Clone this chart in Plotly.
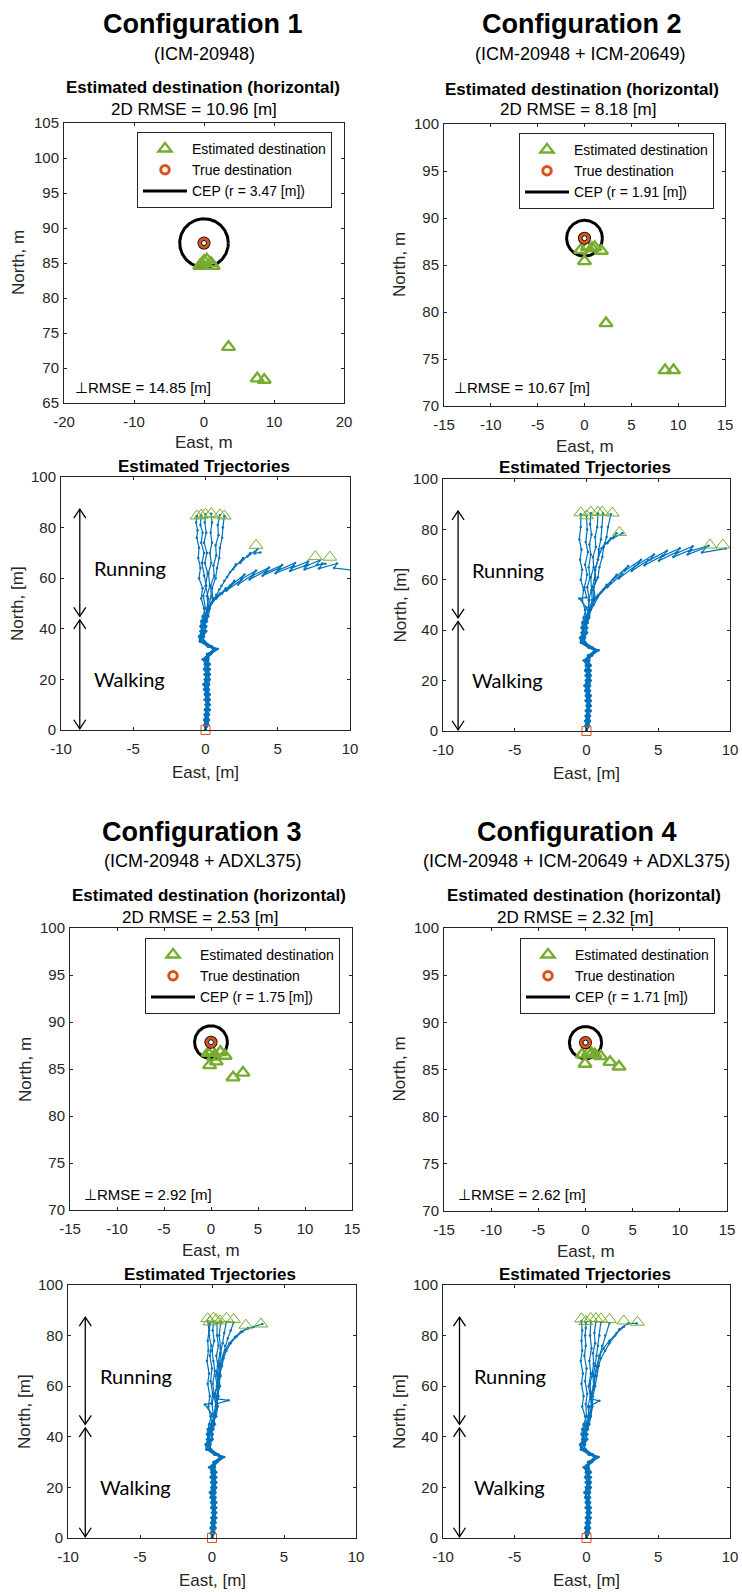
import numpy as np
import plotly.graph_objects as go

W, H = 742, 1592
FONT = "Liberation Sans"
TXT = "#262626"
BLUE = "#0072BD"
GREEN = "#77AC30"
ORANGE = "#D95319"

# ------------------------------------------------------------------ data
CONFIG_TITLES = ["Configuration 1", "Configuration 2", "Configuration 3", "Configuration 4"]
CONFIG_SENSORS = ["(ICM-20948)", "(ICM-20948 + ICM-20649)",
                  "(ICM-20948 + ADXL375)", "(ICM-20948 + ICM-20649 + ADXL375)"]
RMSE_2D = [10.96, 8.18, 2.53, 2.32]
RMSE_PERP = [14.85, 10.67, 2.92, 2.62]
CEP_R = [3.47, 1.91, 1.75, 1.71]
TRUE_E = [0.0]
TRUE_N = [87.85]

# estimated destinations (east, north) per configuration
DEST_E1 = [-0.6, -0.3, 0.0, 0.4, 1.0, 1.3, 3.5, 7.6, 8.6]
DEST_N1 = [84.6, 84.9, 85.3, 85.5, 85.0, 84.6, 73.0, 68.5, 68.3]
DEST_E2 = [-0.4, 0.0, 0.3, 0.8, 1.1, 1.8, 2.3, 8.6, 9.5]
DEST_N2 = [86.6, 85.4, 86.9, 86.8, 86.9, 86.5, 78.8, 73.8, 73.8]
DEST_E3 = [-0.3, -0.15, 0.1, 0.3, 0.55, 1.0, 1.5, 2.35, 3.4]
DEST_N3 = [86.7, 85.4, 86.9, 86.3, 85.8, 86.8, 86.4, 84.1, 84.6]
DEST_E4 = [-0.35, -0.05, 0.3, 0.65, 1.0, 1.6, 2.6, 3.55]
DEST_N4 = [86.6, 85.6, 86.8, 86.7, 86.6, 86.4, 85.8, 85.3]

# walking part of each trajectory (shared north samples)
WALK_N = [0, 2, 4, 6, 8, 10, 12, 14, 16, 18, 20, 22, 24, 26, 28, 30, 32, 33, 35, 37, 39, 41, 43, 45]
WALK_E = [
    [0, 0.10, -0.05, 0.15, 0.05, 0.20, -0.05, 0.15, 0.00, -0.10, 0.15, 0.25, 0.05, 0.10, -0.05, 0.30, 0.75, 0.30, -0.35, -0.30, -0.10, -0.30, -0.15, 0.00],
    [0, -0.05, 0.10, 0.00, 0.20, 0.05, 0.15, 0.25, 0.05, -0.15, 0.05, 0.10, -0.10, 0.00, -0.20, 0.20, 0.60, 0.15, -0.40, -0.45, -0.25, -0.35, -0.30, -0.20],
    [0, 0.15, 0.05, 0.25, 0.10, 0.00, 0.20, 0.10, 0.25, 0.05, -0.05, 0.15, 0.20, -0.05, 0.05, 0.25, 0.70, 0.40, -0.15, -0.20, 0.00, -0.10, 0.05, 0.10],
    [0, 0.05, 0.20, 0.10, -0.05, 0.15, 0.30, 0.05, 0.15, 0.25, 0.10, -0.05, 0.10, 0.20, 0.00, 0.35, 0.80, 0.45, -0.05, -0.25, -0.05, 0.05, -0.10, 0.15],
    [0, 0.00, -0.10, 0.05, 0.15, 0.25, 0.05, -0.05, 0.10, 0.20, 0.30, 0.05, -0.05, 0.15, 0.10, 0.15, 0.65, 0.20, -0.30, -0.40, -0.20, -0.15, -0.25, -0.05],
    [0, 0.20, 0.10, -0.05, 0.10, 0.30, 0.15, 0.00, -0.05, 0.10, 0.20, 0.30, 0.15, 0.25, 0.05, 0.40, 0.85, 0.35, -0.10, -0.15, 0.05, -0.05, 0.10, 0.20],
    [0, 0.10, 0.25, 0.15, 0.00, 0.10, 0.25, 0.20, -0.10, 0.00, 0.25, 0.15, 0.30, 0.05, -0.10, 0.20, 0.55, 0.25, -0.25, -0.35, -0.15, -0.30, -0.05, 0.05],
    [0, -0.10, 0.05, 0.20, 0.30, 0.10, -0.05, 0.15, 0.20, 0.05, 0.00, 0.20, 0.10, 0.30, 0.15, 0.10, 0.70, 0.30, -0.20, -0.10, -0.30, -0.20, 0.00, -0.10],
    [0, 0.05, 0.15, -0.05, 0.10, 0.20, 0.10, 0.30, 0.15, 0.00, 0.10, -0.05, 0.25, 0.10, 0.20, 0.30, 0.60, 0.25, -0.30, -0.20, -0.35, -0.10, -0.20, 0.05],
]

# running part of each trajectory, per configuration
RUN1_E = [
    [-0.1, -0.3, -0.2, -0.45, -0.35, -0.5, -0.45, -0.6, -0.55, -0.65, -0.6],
    [0.0, -0.15, 0.05, -0.1, -0.25, -0.1, -0.3, -0.2, -0.35, -0.3],
    [0.1, 0.2, 0.0, 0.15, -0.05, 0.1, -0.1, 0.05, -0.05, 0.0],
    [0.2, 0.1, 0.3, 0.2, 0.4, 0.3, 0.45, 0.35, 0.45, 0.4],
    [0.2, 0.4, 0.35, 0.6, 0.55, 0.75, 0.7, 0.9, 0.85, 1.0],
    [0.3, 0.5, 0.45, 0.7, 0.8, 0.95, 1.0, 1.15, 1.2, 1.3],
    [0.2, 0.6, 0.4, 0.95, 0.75, 1.3, 1.1, 1.7, 1.5, 2.1, 1.9, 2.6, 2.4, 3.1, 2.9, 3.6, 3.4, 3.8],
    [0.3, 0.8, 0.55, 1.4, 1.15, 2.0, 1.75, 2.7, 2.45, 3.5, 3.25, 4.4, 4.15, 5.3, 5.05, 6.2, 5.95, 7.1, 6.85, 7.9, 7.7, 8.3],
    [0.4, 1.0, 0.75, 1.7, 1.45, 2.5, 2.25, 3.3, 3.05, 4.2, 3.95, 5.1, 4.85, 6.1, 5.85, 7.1, 6.85, 8.1, 7.85, 9.1, 8.9, 10.2],
]
RUN1_N = [
    [48, 52, 56, 60, 64, 68, 72, 76, 79, 82, 84.6],
    [48, 53, 57, 61, 66, 70, 74, 78, 81, 84.9],
    [48, 52, 57, 62, 66, 70, 74, 78, 82, 85.3],
    [48, 53, 57, 62, 66, 70, 74, 78, 82, 85.5],
    [49, 53, 57, 61, 65, 69, 73, 77, 81, 85.0],
    [48, 52, 56, 60, 64, 68, 72, 76, 80, 84.6],
    [48, 52, 50, 55.5, 53.5, 59, 57, 62.5, 60.5, 65.5, 63.5, 68, 66, 70, 68.5, 71.5, 69.8, 70.2],
    [49, 53, 51, 56, 54, 59, 57, 61.5, 59.5, 63, 61, 64.2, 62.2, 65.2, 63.2, 66, 64, 66.6, 64.6, 67, 65.2, 65.7],
    [50, 54, 52, 57, 55, 59.5, 57.5, 61.5, 59.5, 63, 61, 64, 62, 64.8, 62.8, 65.4, 63.4, 65.8, 63.8, 65.8, 64, 63.2],
]
RUN2_E = [
    [-0.1, -0.3, -0.2, -0.4, -0.3, -0.45, -0.35, -0.5, -0.4, -0.4],
    [0.0, -0.5, 0.0, -0.15, 0.05, -0.1, 0.1, -0.05, 0.05, 0.0],
    [0.1, 0.2, 0.05, 0.25, 0.15, 0.3, 0.2, 0.35, 0.25, 0.3],
    [0.2, 0.15, 0.35, 0.3, 0.5, 0.45, 0.65, 0.6, 0.75, 0.8],
    [0.3, 0.5, 0.45, 0.65, 0.6, 0.8, 0.85, 1.0, 1.05, 1.15],
    [0.3, 0.6, 0.5, 0.8, 0.9, 1.1, 1.2, 1.4, 1.5, 1.7],
    [0.2, 0.4, 0.35, 0.55, 0.6, 0.8, 0.95, 1.3, 1.05, 1.7, 1.45, 2.1, 1.85, 2.5],
    [0.3, 0.8, 0.55, 1.4, 1.15, 2.1, 1.85, 2.9, 2.65, 3.8, 3.55, 4.7, 4.45, 5.6, 5.35, 6.5, 6.25, 7.4, 7.15, 8.5],
    [0.5, 1.0, 0.75, 1.7, 1.45, 2.5, 2.25, 3.4, 3.15, 4.3, 4.05, 5.3, 5.05, 6.3, 6.05, 7.3, 7.05, 8.3, 8.05, 9.7],
]
RUN2_N = [
    [48, 52, 56, 60, 64, 68, 72, 76, 81, 86.0],
    [49, 52.6, 53, 57, 62, 66, 71, 75, 80, 85.4],
    [48, 52, 57, 61, 65, 70, 74, 78, 82, 86.4],
    [48, 52, 56, 61, 65, 69, 73, 77, 81, 86.3],
    [48, 52, 56, 60, 64, 68, 72, 76, 81, 86.4],
    [49, 53, 57, 61, 65, 69, 73, 77, 81, 86.0],
    [48, 52, 56, 60, 64, 68, 71, 74.5, 72.5, 76.5, 74.5, 78.5, 76.5, 78.5],
    [49, 54, 52, 58, 56, 62, 60, 65.5, 63.5, 68, 66, 70, 68, 71.5, 69.5, 72.5, 70.5, 73.3, 71.3, 73.5],
    [50, 55, 53, 59, 57, 62.5, 60.5, 65.5, 63.5, 67.8, 65.8, 69.6, 67.6, 71, 69, 72, 70, 72.8, 70.8, 72.4],
]
RUN3_E = [
    [-0.1, -0.25, -0.15, -0.3, -0.2, -0.35, -0.25, -0.3, -0.2, -0.3],
    [0.0, -0.5, -0.05, 0.05, -0.1, 0.0, -0.15, -0.05, -0.2, -0.15],
    [0.1, 0.0, 0.15, 0.05, 0.2, 0.1, 0.0, 0.15, 0.05, 0.1],
    [0.2, 0.3, 0.15, 0.35, 0.25, 0.4, 0.3, 0.45, 0.35, 0.35],
    [0.2, 0.3, 1.15, 0.4, 0.35, 0.5, 0.45, 0.6, 0.5, 0.6],
    [0.1, 0.25, 0.2, 0.4, 0.35, 0.55, 0.6, 0.75, 0.85, 1.0],
    [0.2, 0.3, 0.45, 0.4, 0.6, 0.55, 0.75, 0.9, 1.1, 1.3, 1.5],
    [0.3, 0.4, 0.35, 0.55, 0.5, 0.7, 0.8, 1.0, 1.3, 1.7, 2.1, 2.5],
    [0.2, 0.35, 0.3, 0.5, 0.45, 0.6, 0.75, 0.9, 1.2, 1.6, 2.0, 2.5, 2.9, 3.5],
]
RUN3_N = [
    [48, 52, 56, 61, 65, 70, 74, 78, 82, 85.8],
    [49, 52.8, 53.2, 57, 62, 67, 72, 76, 80, 84.8],
    [48, 53, 57, 61, 66, 70, 74, 78, 82, 85.6],
    [48, 52, 56, 60, 64, 68, 72, 76, 80, 85.0],
    [49, 53, 54.4, 55, 60, 65, 70, 75, 80, 85.0],
    [48, 52, 57, 61, 65, 69, 73, 77, 81, 85.4],
    [48, 52, 56, 60, 64, 68, 72, 76, 79, 82, 85.2],
    [48, 52, 56, 60, 64, 68, 71, 74, 77, 79.5, 81.5, 83.0],
    [48, 52, 56, 60, 64, 68, 71, 74, 77, 79.5, 81.5, 82.8, 83.4, 84.6],
]
RUN4_E = [
    [-0.1, -0.3, -0.2, -0.35, -0.25, -0.4, -0.3, -0.35, -0.3, -0.35],
    [0.0, -0.05, 0.05, -0.1, 0.0, -0.15, -0.05, -0.1, -0.05, -0.05],
    [0.1, 0.2, 0.9, 0.3, 0.15, 0.3, 0.2, 0.35, 0.25, 0.3],
    [0.2, 0.1, 0.3, 0.25, 0.4, 0.5, 0.45, 0.6, 0.55, 0.65],
    [0.2, 0.35, 0.3, 0.5, 0.45, 0.6, 0.7, 0.8, 0.9, 1.0],
    [0.3, 0.4, 0.35, 0.55, 0.6, 0.8, 0.9, 1.1, 1.3, 1.6],
    [0.2, 0.35, 0.3, 0.5, 0.55, 0.7, 0.9, 1.2, 1.6, 2.1, 2.6],
    [0.3, 0.4, 0.45, 0.6, 0.7, 0.85, 1.0, 1.3, 1.6, 2.0, 2.3, 2.9, 3.5],
]
RUN4_N = [
    [48, 52, 56, 61, 65, 70, 74, 78, 82, 85.8],
    [48, 53, 57, 62, 67, 72, 76, 80, 83, 85.2],
    [48, 52, 54.2, 55, 60, 65, 70, 75, 80, 85.6],
    [48, 52, 57, 61, 65, 69, 73, 77, 81, 85.5],
    [48, 52, 56, 60, 64, 68, 72, 76, 80, 85.3],
    [48, 52, 56, 60, 64, 68, 72, 76, 80, 85.0],
    [48, 52, 56, 60, 64, 68, 72, 75, 78, 81, 83.5],
    [48, 52, 56, 60, 64, 68, 71, 74, 77, 80, 82.5, 84.8, 84.8],
]

DEST_E = [DEST_E1, DEST_E2, DEST_E3, DEST_E4]
DEST_N = [DEST_N1, DEST_N2, DEST_N3, DEST_N4]
RUN_E = [RUN1_E, RUN2_E, RUN3_E, RUN4_E]
RUN_N = [RUN1_N, RUN2_N, RUN3_N, RUN4_N]

# axis ranges / ticks
SCAT_XRANGE = [[-20, 20], [-15, 15], [-15, 15], [-15, 15]]
SCAT_YRANGE = [[65, 105], [70, 100], [70, 100], [70, 100]]
SCAT_XTICKS = [[-20, -10, 0, 10, 20], [-15, -10, -5, 0, 5, 10, 15],
               [-15, -10, -5, 0, 5, 10, 15], [-15, -10, -5, 0, 5, 10, 15]]
SCAT_YTICKS = [[65, 70, 75, 80, 85, 90, 95, 100, 105], [70, 75, 80, 85, 90, 95, 100],
               [70, 75, 80, 85, 90, 95, 100], [70, 75, 80, 85, 90, 95, 100]]
TRAJ_XRANGE = [-10, 10]
TRAJ_YRANGE = [0, 100]
TRAJ_XTICKS = [-10, -5, 0, 5, 10]
TRAJ_YTICKS = [0, 20, 40, 60, 80, 100]

# phase annotation (Running / Walking)
PHASE_LABELS = ["Running", "Walking"]
PHASE_SPANS = [[44.9, 87.3], [0.5, 43.5]]
PHASE_TEXT_N = [63.9, 20.3]
ARROW_E = [-8.7, -8.95, -8.8, -8.85]
PHASE_TEXT_E = [-7.85, -8.15, -7.95, -8.0]

# ------------------------------------------------------------------ layout geometry (px)
SCAT_BOX = [(64, 344, 123, 403), (444, 725, 124, 406), (70, 352, 928, 1210), (444, 727, 928, 1211)]
TRAJ_BOX = [(61, 350, 477, 730), (443, 730, 479, 731), (68, 356, 1285, 1538), (443, 730, 1285, 1538)]
SCAT_AX = [1, 2, 5, 6]
TRAJ_AX = [3, 4, 7, 8]
CONF_TITLE_XY = [(202, 24), (581, 24), (201.5, 832), (576, 832)]
SENSOR_XY = [(204, 54), (580, 54), (202.5, 861), (576.5, 861)]
SUB_XY = [(202.5, 87.5), (582, 89), (209, 895), (584, 895)]
RMSE_XY = [(194, 109), (578, 110), (200, 917), (575, 917)]
PERP_XY = [(72.7, 387), (452, 387), (81.7, 1194), (456, 1194)]
TRAJ_TITLE_XY = [(204, 466), (585, 467), (210, 1274), (585, 1274)]
LEGEND_XY = [(137, 132), (519, 133), (145, 938), (520, 938)]


def px(x, y):
    return x / W, 1 - y / H


def axname(i, kind):
    return kind if i == 1 else f"{kind}{i}"


def axis_layout(box, rng, ticks, horizontal, anchor):
    l, r, t, b = box
    dom = [l / W, r / W] if horizontal else [1 - b / H, 1 - t / H]
    return dict(domain=dom, range=rng, tickvals=ticks, ticktext=[f"{v:g}" for v in ticks],
                ticks="inside", ticklen=3, tickwidth=1, tickcolor=TXT,
                showline=True, linecolor=TXT, linewidth=1, mirror="ticks",
                showgrid=False, zeroline=False, anchor=anchor, fixedrange=True,
                automargin=False, ticklabelstandoff=5 if horizontal else 1,
                tickfont=dict(family=FONT, size=15, color=TXT))


fig = go.Figure()
annotations = []
shapes = []
layout = dict(width=W, height=H, autosize=False,
              margin=dict(l=0, r=0, t=0, b=0, pad=0, autoexpand=False),
              paper_bgcolor="white", plot_bgcolor="white", showlegend=True)


def ann(x, y, text, size, color="black", xanchor="center", angle=0, family=FONT):
    xx, yy = px(x, y)
    annotations.append(dict(x=xx, y=yy, xref="paper", yref="paper", text=text, showarrow=False,
                            xanchor=xanchor, yanchor="middle", textangle=angle,
                            font=dict(family=family, size=size, color=color)))


theta = np.linspace(0, 2 * np.pi, 181)

for c in range(4):
    # ---------------- scatter (destination) plot
    a = SCAT_AX[c]
    xr, yr = axname(a, "x"), axname(a, "y")
    box = SCAT_BOX[c]
    layout[axname(a, "xaxis")] = axis_layout(box, SCAT_XRANGE[c], SCAT_XTICKS[c], True, yr)
    layout[axname(a, "yaxis")] = axis_layout(box, SCAT_YRANGE[c], SCAT_YTICKS[c], False, xr)
    leg = "legend" if c == 0 else f"legend{c + 1}"
    lx, ly = px(*LEGEND_XY[c])
    layout[leg] = dict(x=lx, y=ly, xanchor="left", yanchor="top", xref="paper", yref="paper",
                       bgcolor="white", bordercolor=TXT, borderwidth=1, itemwidth=44,
                       tracegroupgap=0, font=dict(family=FONT, size=14, color="black"))

    fig.add_trace(go.Scatter(
        x=TRUE_E[0] + CEP_R[c] * np.cos(theta), y=TRUE_N[0] + CEP_R[c] * np.sin(theta),
        mode="lines", line=dict(color="black", width=3), xaxis=xr, yaxis=yr,
        name=f"CEP (r = {CEP_R[c]:.2f} [m])", legend=leg, legendrank=3))
    fig.add_trace(go.Scatter(
        x=DEST_E[c], y=DEST_N[c], mode="markers", xaxis=xr, yaxis=yr,
        marker=dict(symbol="triangle-up-open", size=11.5, color=GREEN, line=dict(color=GREEN, width=2.4)),
        name="Estimated destination", legend=leg, legendrank=1))
    fig.add_trace(go.Scatter(
        x=TRUE_E, y=TRUE_N, mode="markers", xaxis=xr, yaxis=yr, showlegend=False,
        marker=dict(symbol="circle", size=13, color="black"), hoverinfo="skip"))
    fig.add_trace(go.Scatter(
        x=TRUE_E, y=TRUE_N, mode="markers", xaxis=xr, yaxis=yr,
        marker=dict(symbol="circle", size=8.5, color="white", line=dict(color=ORANGE, width=3)),
        name="True destination", legend=leg, legendrank=2))
    fig.add_trace(go.Scatter(
        x=TRUE_E, y=TRUE_N, mode="markers", xaxis=xr, yaxis=yr, showlegend=False,
        marker=dict(symbol="circle-open", size=5, color="black", line=dict(color="black", width=1)),
        hoverinfo="skip"))

    l, r, t, b = box
    ann(*CONF_TITLE_XY[c], f"<b>{CONFIG_TITLES[c]}</b>", 27)
    ann(*SENSOR_XY[c], CONFIG_SENSORS[c], 18)
    ann(*SUB_XY[c], "<b>Estimated destination (horizontal)</b>", 17)
    ann(*RMSE_XY[c], f"2D RMSE = {RMSE_2D[c]:.2f} [m]", 17)
    ann(*PERP_XY[c], f"\u22a5RMSE = {RMSE_PERP[c]:.2f} [m]", 15, xanchor="left")
    ann((l + r) / 2, b + 40, "East, m", 17, color=TXT)
    ann(l - 45, (t + b) / 2, "North, m", 17, color=TXT, angle=-90)

    # ---------------- trajectory plot
    a = TRAJ_AX[c]
    xr, yr = axname(a, "x"), axname(a, "y")
    box = TRAJ_BOX[c]
    layout[axname(a, "xaxis")] = axis_layout(box, TRAJ_XRANGE, TRAJ_XTICKS, True, yr)
    layout[axname(a, "yaxis")] = axis_layout(box, TRAJ_YRANGE, TRAJ_YTICKS, False, xr)

    ex, nx = [], []
    for k in range(len(RUN_E[c])):
        ex += WALK_E[k] + RUN_E[c][k] + [None]
        nx += WALK_N + RUN_N[c][k] + [None]
    fig.add_trace(go.Scatter(x=ex, y=nx, mode="lines+markers", line=dict(color=BLUE, width=1.2),
                             marker=dict(size=2.5, color=BLUE),
                             xaxis=xr, yaxis=yr, showlegend=False, connectgaps=False))
    fig.add_trace(go.Scatter(x=DEST_E[c], y=DEST_N[c], mode="markers", xaxis=xr, yaxis=yr,
                             showlegend=False, cliponaxis=False,
                             marker=dict(symbol="triangle-up-open", size=12, color=GREEN,
                                         line=dict(color=GREEN, width=1))))
    fig.add_trace(go.Scatter(x=[WALK_E[0][0]], y=[WALK_N[0]], mode="markers", xaxis=xr, yaxis=yr,
                             showlegend=False, cliponaxis=False,
                             marker=dict(symbol="square-open", size=9, color=ORANGE,
                                         line=dict(color=ORANGE, width=1))))

    l, r, t, b = box
    ann(*TRAJ_TITLE_XY[c], "<b>Estimated Trjectories</b>", 17)
    ann((l + r) / 2, b + 42, "East, [m]", 17, color=TXT)
    ann(l - 43.5, (t + b) / 2, "North, [m]", 17, color=TXT, angle=-90)

    # Running / Walking double arrows
    xpx = (r - l) / (TRAJ_XRANGE[1] - TRAJ_XRANGE[0])
    ypx = (b - t) / (TRAJ_YRANGE[1] - TRAJ_YRANGE[0])
    hw = 6 / xpx
    hh = 9 / ypx
    xa = ARROW_E[c]
    for lab, (y0, y1), ty in zip(PHASE_LABELS, PHASE_SPANS, PHASE_TEXT_N):
        shapes.append(dict(type="line", xref=xr, yref=yr, x0=xa, x1=xa, y0=y0, y1=y1,
                           line=dict(color="black", width=1.3)))
        shapes.append(dict(type="path", xref=xr, yref=yr,
                           path=f"M{xa - hw},{y1 - hh} L{xa},{y1} L{xa + hw},{y1 - hh}",
                           line=dict(color="black", width=1.3)))
        shapes.append(dict(type="path", xref=xr, yref=yr,
                           path=f"M{xa - hw},{y0 + hh} L{xa},{y0} L{xa + hw},{y0 + hh}",
                           line=dict(color="black", width=1.3)))
        annotations.append(dict(x=PHASE_TEXT_E[c], y=ty, xref=xr, yref=yr, text=lab,
                                showarrow=False, xanchor="left", yanchor="middle",
                                font=dict(family="Lato", size=20, color="black")))

layout["annotations"] = annotations
layout["shapes"] = shapes
fig.update_layout(**layout)
fig.write_html("out.html", config={"responsive": False, "displayModeBar": False},
               post_script="document.body.style.margin='0';document.body.style.overflow='hidden';")
